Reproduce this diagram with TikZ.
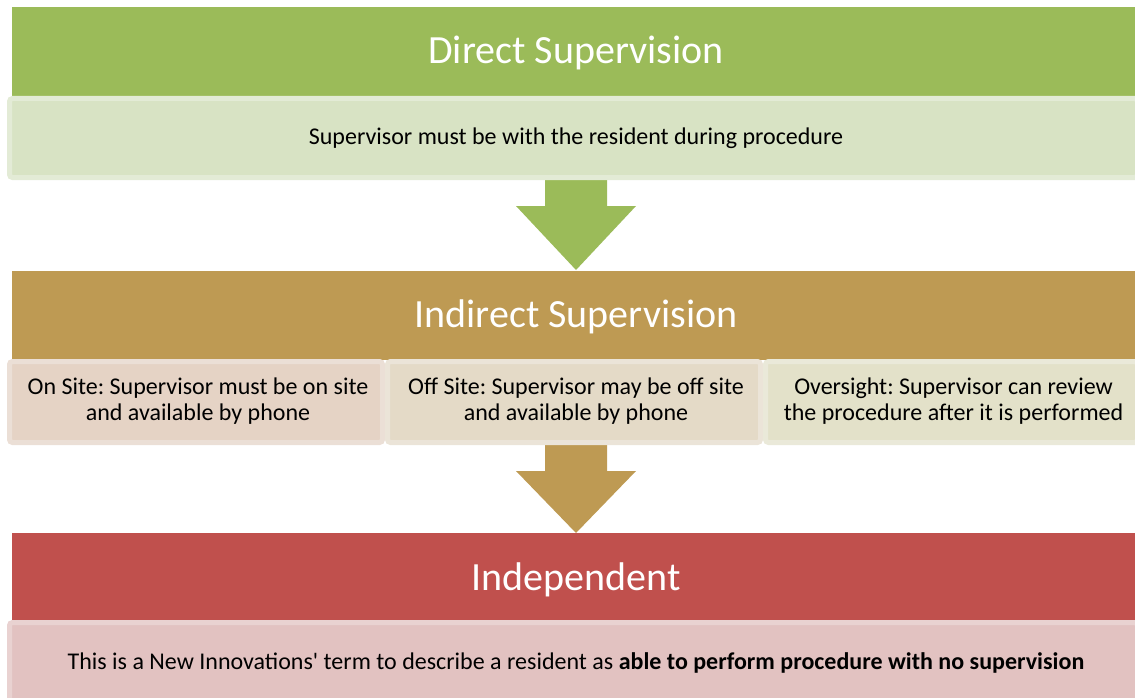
\documentclass[tikz,border=0pt]{standalone}
\usepackage{fontspec}
\setmainfont{Carlito}[Ligatures=TeXOff]
\frenchspacing
\definecolor{grnhead}{HTML}{9BBB59}
\definecolor{grnfill}{HTML}{D8E3C4}
\definecolor{grnrim}{HTML}{E3EBD6}
\definecolor{tanhead}{HTML}{BE9A53}
\definecolor{tanfillA}{HTML}{E5D3C5}
\definecolor{tanrimA}{HTML}{EBDFD6}
\definecolor{tanfillB}{HTML}{E4DAC7}
\definecolor{tanrimB}{HTML}{EBE4D8}
\definecolor{tanfillC}{HTML}{E3E1C9}
\definecolor{tanrimC}{HTML}{EAE9D9}
\definecolor{redhead}{HTML}{C0504D}
\definecolor{redfill}{HTML}{E2C2C1}
\definecolor{redrim}{HTML}{E9D2D1}
\tikzset{
  header/.style={draw=none, inner sep=0pt, minimum width=1128pt, minimum height=89pt},
  headtext/.style={text=white, font=\fontsize{40}{44}\selectfont},
  panel/.style={line width=5pt, rounded corners=3pt, inner sep=0pt, text=black,
    align=center, font=\fontsize{24}{26}\selectfont},
  paneltext/.style={text=black, align=center, font=\fontsize{24}{26}\selectfont},
}
\begin{document}
\begin{tikzpicture}[x=1pt,y=-1pt]
\useasboundingbox (0,0) rectangle (1135,698);
\begin{scope}
\clip (0,0) rectangle (1135,698);

% down arrows between the levels
\fill[grnhead] (545,175) -- (607,175) -- (607,206) -- (636,206) -- (576,270)
  -- (516,206) -- (545,206) -- cycle;
\fill[tanhead] (545,440) -- (607,440) -- (607,471) -- (636,471) -- (576,533)
  -- (516,471) -- (545,471) -- cycle;

% level 1: direct supervision
\node[header, fill=grnhead] (dhead) at (576,51.5) {};
\node[headtext] (dtitle) at (576,53) {Direct Supervision};
\node[panel, fill=grnfill, draw=grnrim, minimum width=1128pt, minimum height=79pt]
  (dbox) at (573.5,138) {};
\node[paneltext] (dtext) at (576,138) {Supervisor must be with the resident during procedure};

% level 2: indirect supervision
\node[header, fill=tanhead] (ihead) at (576,315) {};
\node[headtext] (ititle) at (576,316.5) {Indirect Supervision};
\node[panel, fill=tanfillA, draw=tanrimA, minimum width=373pt, minimum height=81pt]
  (ibox1) at (196,402) {};
\node[panel, fill=tanfillB, draw=tanrimB, minimum width=373pt, minimum height=81pt]
  (ibox2) at (574,402) {};
\node[panel, fill=tanfillC, draw=tanrimC, minimum width=372pt, minimum height=81pt]
  (ibox3) at (951.5,402) {};
\node[paneltext] (itext1) at (198,401.5) {On Site: Supervisor must be on site\\and available by phone};
\node[paneltext] (itext2) at (576,401.5) {Off Site: Supervisor may be off site\\and available by phone};
\node[paneltext] (itext3) at (953.5,401.5) {Oversight: Supervisor can review\\the procedure after it is performed};

% level 3: independent
\node[header, fill=redhead] (nhead) at (576,577.5) {};
\node[headtext] (ntitle) at (576,580) {Independent};
\node[panel, fill=redfill, draw=redrim, minimum width=1128pt, minimum height=82pt]
  (nbox) at (573.5,663.5) {};
\node[paneltext] (ntext) at (576,662.5) {This is a New Innovations' term to describe a resident as \textbf{able to perform procedure with no supervision}};
\end{scope}
\end{tikzpicture}
\end{document}
